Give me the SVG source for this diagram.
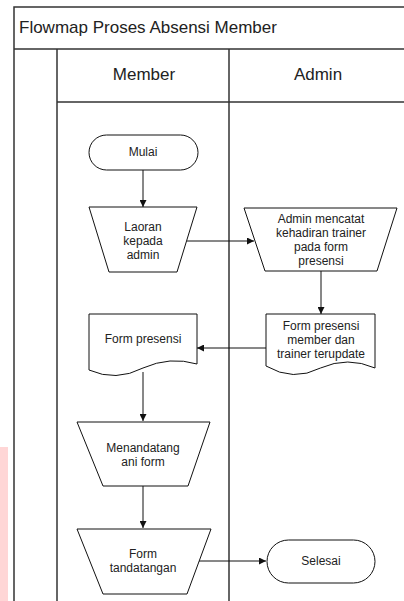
<svg xmlns="http://www.w3.org/2000/svg" width="404" height="601" viewBox="0 0 404 601">
<style>
.frame{fill:none;stroke:#333;stroke-width:1.5}
.node{fill:#fff;stroke:#111;stroke-width:1}
.edge{fill:none;stroke:#111;stroke-width:1}
.t{font-family:"Liberation Sans",Arial,sans-serif;fill:#222;text-anchor:middle}
.n{font-size:12px}
.h{font-size:17px}
</style>
<defs>
<marker id="arr" viewBox="0 0 10 10" refX="10" refY="5" markerWidth="7" markerHeight="7" markerUnits="userSpaceOnUse" orient="auto">
<path d="M0,0 L10,5 L0,10 Z" fill="#111"/>
</marker>
</defs>
<rect x="0" y="0" width="404" height="601" fill="#fff"/>
<rect x="0" y="447" width="8" height="154" fill="#ffd6d6"/>
<g id="pool">
<rect x="14" y="7" width="400" height="600" fill="#fff" class="frame"/>
<line x1="14" y1="49" x2="404" y2="49" class="frame"/>
<line x1="57" y1="49" x2="57" y2="601" class="frame"/>
<line x1="229" y1="49" x2="229" y2="601" class="frame"/>
<line x1="57" y1="102" x2="404" y2="102" class="frame"/>
<text x="19" y="33" class="t h" style="text-anchor:start">Flowmap Proses Absensi Member</text>
<text x="144" y="80" class="t h">Member</text>
<text x="318" y="80" class="t h">Admin</text>
</g>
<g id="connectors">
<path d="M143,170 L143,207" class="edge" marker-end="url(#arr)"/>
<path d="M187,241 L254,241" class="edge" marker-end="url(#arr)"/>
<path d="M321,271 L321,314" class="edge" marker-end="url(#arr)"/>
<path d="M266,348 L197,348" class="edge" marker-end="url(#arr)"/>
<path d="M143,372 L143,421" class="edge" marker-end="url(#arr)"/>
<path d="M143,486 L143,528" class="edge" marker-end="url(#arr)"/>
<path d="M199,561 L266,561" class="edge" marker-end="url(#arr)"/>
</g>
<g id="mulai">
<rect x="89" y="135" width="109" height="35" rx="17.5" class="node"/>
<text x="143" y="156" class="t n">Mulai</text>
</g>
<g id="laoran">
<path d="M89,207 L197,207 L177,272 L109,272 Z" class="node"/>
<text x="143" y="231" class="t n">Laoran</text>
<text x="143" y="245" class="t n">kepada</text>
<text x="143" y="259" class="t n">admin</text>
</g>
<g id="admin-mencatat">
<path d="M244,208 L397,208 L377,271 L265,271 Z" class="node"/>
<text x="321" y="223" class="t n">Admin mencatat</text>
<text x="321" y="237" class="t n">kehadiran trainer</text>
<text x="321" y="251" class="t n">pada form</text>
<text x="321" y="265" class="t n">presensi</text>
</g>
<g id="form-terupdate">
<path d="M266,314 L375,314 L375,368 Q347.75,356 320.5,368 Q293.25,382 266,366 Z" class="node"/>
<text x="321" y="330" class="t n">Form presensi</text>
<text x="321" y="344" class="t n">member dan</text>
<text x="321" y="358" class="t n">trainer terupdate</text>
</g>
<g id="form-presensi">
<path d="M89,314 L197,314 L197,364 Q170,356 143,368 Q116,382 89,370 Z" class="node"/>
<text x="143" y="343" class="t n">Form presensi</text>
</g>
<g id="menandatangani">
<path d="M77,422 L210,422 L188,486 L103,486 Z" class="node"/>
<text x="143" y="452" class="t n">Menandatang</text>
<text x="143" y="466" class="t n">ani form</text>
</g>
<g id="form-tandatangan">
<path d="M77,529 L211,529 L187,594 L103,594 Z" class="node"/>
<text x="143" y="558" class="t n">Form</text>
<text x="143" y="572" class="t n">tandatangan</text>
</g>
<g id="selesai">
<rect x="267" y="540" width="108" height="43" rx="21.5" class="node"/>
<text x="321" y="565" class="t n">Selesai</text>
</g>
</svg>
